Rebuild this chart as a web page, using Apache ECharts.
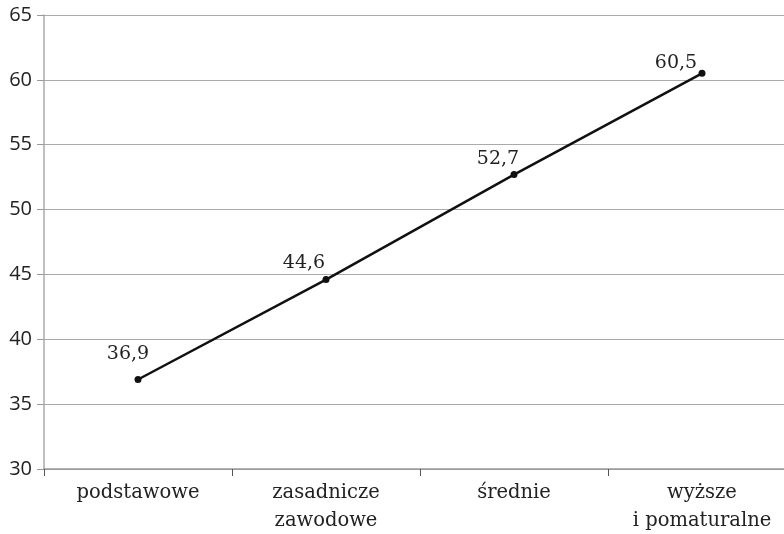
<!DOCTYPE html>
<html><head><meta charset="utf-8">
<script src="https://cdn.jsdelivr.net/npm/echarts@6/dist/echarts.min.js"></script>
<style>html,body{margin:0;padding:0;background:#fff}#c{width:784px;height:534px}</style>
</head><body><div id="c"></div>
<script>
const categories = ['podstawowe', 'zasadnicze\nzawodowe', 'średnie', 'wyższe\ni pomaturalne'];
const values = [36.9, 44.6, 52.7, 60.5];
const yMin = 30, yMax = 65, yStep = 5;
// label offsets (style only)
const labelOffsets = [[-10, -12], [-22, -4], [-16, -2], [-26, 3]];

const chart = echarts.init(document.getElementById('c'));
chart.setOption({
  animation: false,
  grid: { left: 44, top: 15, width: 752, height: 454, containLabel: false, outerBoundsMode: 'none' },
  xAxis: {
    type: 'category', data: categories, boundaryGap: true,
    axisLine: { lineStyle: { color: '#999', width: 1.5 } },
    axisTick: { show: true, length: 7, lineStyle: { color: '#555', width: 1 } },
    axisLabel: { color: '#222', fontFamily: 'DejaVu Serif', fontSize: 19.5, lineHeight: 28, margin: 10 }
  },
  yAxis: {
    type: 'value', min: yMin, max: yMax, interval: yStep,
    axisLine: { show: true, lineStyle: { color: '#aaa', width: 1.5 } },
    axisTick: { show: true, length: 7, lineStyle: { color: '#999' } },
    splitLine: { lineStyle: { color: '#aaa', width: 1.2 } },
    axisLabel: { color: '#222', fontFamily: 'Open Sans', fontSize: 20, margin: 12 }
  },
  series: [{
    type: 'line',
    data: values.map((v, i) => ({ value: v, label: { offset: labelOffsets[i] } })),
    lineStyle: { color: '#111', width: 2.5 },
    itemStyle: { color: '#111' },
    symbol: 'circle', symbolSize: 7,
    label: {
      show: true, position: 'top', distance: 0,
      color: '#222', fontFamily: 'DejaVu Serif', fontSize: 19,
      formatter: p => String(p.value).replace('.', ',')
    }
  }]
});
</script></body></html>
